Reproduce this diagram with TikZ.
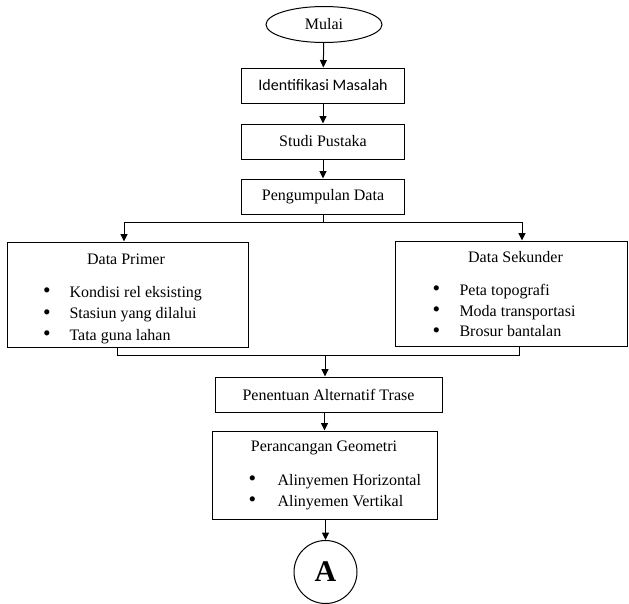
\documentclass[tikz,border=0pt]{standalone}
\usepackage{fontspec}
\setmainfont{Liberation Serif}
\newfontfamily\calfont{Carlito}
\usetikzlibrary{arrows.meta,calc,shapes.geometric}
\newcommand{\bigbul}{\raisebox{-0.6pt}{\scalebox{1.35}{\textbullet}}}
\begin{document}
\begin{tikzpicture}[x=1pt,y=-1pt, line width=1pt,
  every node/.style={font=\fontsize{16}{19}\selectfont},
  box/.style={draw, rectangle, inner sep=0pt},
  arr/.style={-{Triangle[length=7.5pt,width=7pt]}},
  tl/.style={inner sep=0pt, anchor=base},
  bl/.style={inner sep=0pt, anchor=base west},
  bu/.style={inner sep=0pt, anchor=base}]
\useasboundingbox (0,0) rectangle (629,603);
% top chain
\node[draw, ellipse, minimum width=116pt, minimum height=36pt, inner sep=0pt] (mulai) at (324,24.5) {Mulai};
\node[box, minimum width=163pt, minimum height=35pt, font=\calfont\fontsize{16}{19}\selectfont] (ident) at (323,85.5) {Identifikasi Masalah};
\node[box, minimum width=163pt, minimum height=35pt] (studi) at (323,141.5) {Studi Pustaka};
\node[box, minimum width=163pt, minimum height=35pt] (peng) at (323,196.5) {Pengumpulan Data};
% data boxes
\node[box, minimum width=241pt, minimum height=105pt] (primer) at (127.5,294.5) {};
\node[tl] (primert) at (126,264) {Data Primer};
\node[bu] (pb1) at (47,297) {\bigbul};
\node[bl] (pi1) at (69,297) {Kondisi rel eksisting};
\node[bu] (pb2) at (47,318.5) {\bigbul};
\node[bl] (pi2) at (69,318.5) {Stasiun yang dilalui};
\node[bu] (pb3) at (47,340) {\bigbul};
\node[bl] (pi3) at (69,340) {Tata guna lahan};
\node[box, minimum width=232pt, minimum height=105pt] (sekunder) at (511,293.5) {};
\node[tl] (sekundert) at (515.5,262.5) {Data Sekunder};
\node[bu] (sb1) at (436.5,295) {\bigbul};
\node[bl] (si1) at (459,295) {Peta topografi};
\node[bu] (sb2) at (436.5,316) {\bigbul};
\node[bl] (si2) at (459,316) {Moda transportasi};
\node[bu] (sb3) at (436.5,336.5) {\bigbul};
\node[bl] (si3) at (459,336.5) {Brosur bantalan};
% lower chain
\node[box, minimum width=227pt, minimum height=35pt] (trase) at (328.5,394.5) {Penentuan Alternatif Trase};
\node[box, minimum width=225pt, minimum height=88pt] (geo) at (324.5,475) {};
\node[tl] (geot) at (324,451.5) {Perancangan Geometri};
\node[bu] (gb1) at (252.5,485) {\bigbul};
\node[bl] (gi1) at (277,485) {Alinyemen Horizontal};
\node[bu] (gb2) at (252.5,506) {\bigbul};
\node[bl] (gi2) at (277,506) {Alinyemen Vertikal};
\node[draw, circle, minimum size=63pt, inner sep=0pt, font=\fontsize{30}{34}\selectfont\bfseries] (conA) at (325.5,572) {A};
% connectors
\draw[arr] (mulai) -- (ident);
\draw[arr] (ident) -- (studi);
\draw[arr] (studi) -- (peng);
\coordinate (split) at (323,222);
\draw (peng.south) -- (split);
\draw[arr] (split) -| ([xshift=-3.5pt]primer.north);
\draw[arr] (split) -| ([xshift=11pt]sekunder.north);
\coordinate (merge) at (325,355);
\draw ([xshift=-10.5pt]primer.south) |- (merge);
\draw ([xshift=8pt]sekunder.south) |- (merge);
\draw[arr] (merge) -- (merge |- trase.north);
\draw[arr] (trase.south -| geo.north) -- (geo.north);
\draw[arr] (geo.south -| conA.north) -- (conA.north);
\end{tikzpicture}
\end{document}
